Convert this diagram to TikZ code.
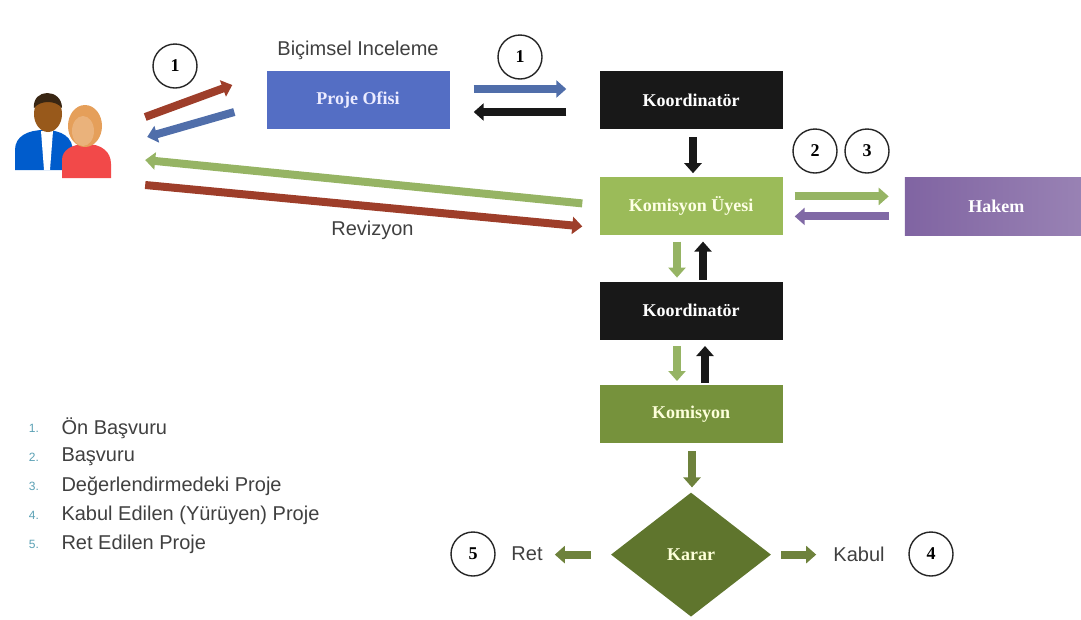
\documentclass[tikz,border=0pt]{standalone}
\usepackage{fontspec}
\setmainfont{Liberation Sans}
\newfontfamily\kutufont{Liberation Serif}
\usetikzlibrary{positioning,shapes.geometric,arrows.meta,calc}

\definecolor{ofisblue}{RGB}{84,110,196}
\definecolor{koordblack}{RGB}{24,24,24}
\definecolor{uyegreen}{RGB}{155,187,89}
\definecolor{hakempurple}{RGB}{128,100,162}
\definecolor{komgreen}{RGB}{118,146,60}
\definecolor{kararolive}{RGB}{95,117,45}
\definecolor{okred}{RGB}{158,62,42}
\definecolor{okblue}{RGB}{80,110,170}
\definecolor{okgreen}{RGB}{150,180,100}
\definecolor{okpurple}{RGB}{128,105,165}
\definecolor{okolive}{RGB}{110,130,60}
\definecolor{legendno}{RGB}{90,160,180}

\tikzset{
  kutu/.style={rectangle, minimum width=183pt, minimum height=58pt, inner sep=0pt, font=\kutufont\bfseries\fontsize{18}{21}\selectfont},
  ok/.style={line width=8pt, -{Triangle[length=10pt,width=17pt]}},
  numara/.style={circle, draw=black!85, line width=1.4pt, minimum size=44pt, inner sep=0pt, fill=white, font=\kutufont\bfseries\fontsize{18}{21}\selectfont},
  yazi/.style={font=\fontsize{20}{24}\selectfont, text=black!75},
}

\begin{document}
\begin{tikzpicture}[x=1pt, y=-1pt, node distance=46pt]
  \useasboundingbox (0,0) rectangle (1081,619);

  % kullanici ikonu
  \node (user) at (65,135) [minimum width=110pt, minimum height=95pt, inner sep=0pt] {};
  \fill[blue!55!cyan!80!black] (15,170) -- (15,150) .. controls (15,136) and (28,130) .. (44,130) .. controls (62,130) and (73,137) .. (73,152) -- (73,170) -- cycle;
  \fill[white] (41,131) -- (53,131) -- (50,170) -- (44,170) -- cycle;
  \fill[brown!60!orange!70!black] (48,114) ellipse (14pt and 18pt);
  \fill[black!70!brown] (34,108) .. controls (32,88) and (62,88) .. (62,108) .. controls (56,100) and (40,100) .. (34,108);
  \fill[red!70!white!95!black] (62,178) -- (62,160) .. controls (62,150) and (72,144) .. (86,144) .. controls (102,144) and (111,152) .. (111,164) -- (111,178) -- cycle;
  \fill[brown!55!orange!75] (85,126) ellipse (17pt and 21pt);
  \fill[brown!55!orange!60!white] (83,131) ellipse (11pt and 15pt);

  % ust satir
  \node (ofis) at (358,100) [kutu, fill=ofisblue, text=blue!8] {Proje Ofisi};
  \node (baslik) [above=8pt of ofis, yazi] {Biçimsel Inceleme};
  \node (koord) at (691,100) [kutu, fill=koordblack, text=white] {Koordinatör};

  % orta kolon
  \node (uye) [kutu, below=48pt of koord, fill=uyegreen, text=green!5!yellow!10] {Komisyon Üyesi};
  \node (hakem) [kutu, right=122pt of uye, left color=hakempurple, right color=hakempurple!80, text=white] {Hakem};
  \node (koord2) [kutu, below=46pt of uye, fill=koordblack, text=white] {Koordinatör};
  \node (komisyon) [kutu, below=45pt of koord2, fill=komgreen, text=green!5!yellow!15] {Komisyon};
  \node (karar) [diamond, below=49pt of komisyon, fill=kararolive, minimum width=160pt, minimum height=124pt, inner sep=0pt, font=\kutufont\bfseries\fontsize{18}{21}\selectfont, text=green!5!yellow!15] {Karar};

  % sonuc etiketleri
  \node (ret) at (527,554) [yazi] {Ret};
  \node (kabul) at (859,554) [yazi] {Kabul};

  % numaralar
  \node (n1a) at (175,66) [numara] {1};
  \node (n1b) at (520,57) [numara] {1};
  \node (n2) at (815,151) [numara] {2};
  \node (n3) at (867,151) [numara] {3};
  \node (n5) at (473,554) [numara] {5};
  \node (n4) at (931,554) [numara] {4};

  % oklar
  \draw[ok, okred] ($(user.east)+(25,-18)$) -- ($(ofis.west)+(-34,-15)$);
  \draw[ok, okblue] ($(ofis.west)+(-32,12)$) -- ($(user.east)+(27,2)$);
  \draw[ok, okblue] ($(ofis.east)+(24,-11)$) -- ($(koord.west)+(-33,-11)$);
  \draw[ok, koordblack] ($(koord.west)+(-33,12)$) -- ($(ofis.east)+(24,12)$);
  \draw[ok, koordblack] ($(koord.south)+(2,8)$) -- ($(koord.south |- uye.north)+(2,-4)$);
  \draw[ok, okgreen] ($(uye.west)+(-17,-3)$) -- ($(user.east)+(25,25)$);
  \draw[ok, okred] ($(user.east)+(25,50)$) -- node[yazi, below=7pt, pos=0.52] (rev) {Revizyon} ($(uye.west)+(-17,20)$);
  \draw[ok, okgreen] ($(uye.east)+(12,-10)$) -- ($(hakem.west)+(-16,-10)$);
  \draw[ok, okpurple] ($(hakem.west)+(-16,10)$) -- ($(uye.east)+(12,10)$);
  \draw[ok, okgreen] ($(uye.south)+(-14,6)$) -- ($(uye.south |- koord2.north)+(-14,-4)$);
  \draw[ok, koordblack] ($(koord2.north)+(12,-2)$) -- ($(koord2.north |- uye.south)+(12,6)$);
  \draw[ok, okgreen] ($(koord2.south)+(-14,6)$) -- ($(koord2.south |- komisyon.north)+(-14,-4)$);
  \draw[ok, koordblack] ($(komisyon.north)+(14,-2)$) -- ($(komisyon.north |- koord2.south)+(14,6)$);
  \draw[ok, okolive] ($(komisyon.south)+(1,8)$) -- ($(komisyon.south |- karar.north)+(1,-5)$);
  \draw[ok, okolive] ($(karar.west)+(-20,0)$) -- ($(karar.west)+(-56,0)$);
  \draw[ok, okolive] ($(karar.east)+(10,0)$) -- ($(karar.east)+(45,0)$);

  % lejant
  \foreach \i/\t in {1/Ön Başvuru, 2/Başvuru, 3/Değerlendirmedeki Proje, 4/Kabul Edilen (Yürüyen) Proje, 5/Ret Edilen Proje} {
    \node (no\i) at (34,{428+29*(\i-1)}) [font=\fontsize{12}{14}\selectfont, text=legendno] {\i.};
    \node (lj\i) at (58,{428+29*(\i-1)}) [anchor=west, yazi] {\t};
  }
\end{tikzpicture}
\end{document}
